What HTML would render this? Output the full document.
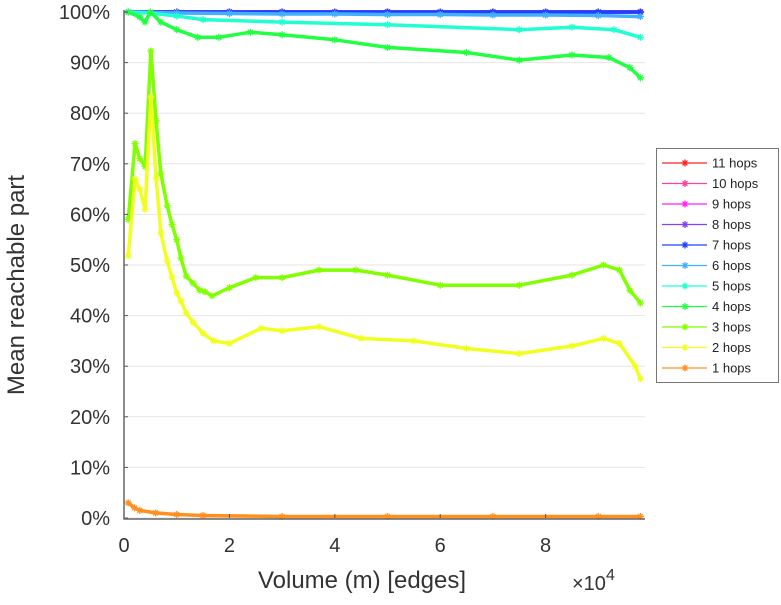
<!DOCTYPE html>
<html><head><meta charset="utf-8"><style>
body{margin:0;background:#fff;}
svg text{font-family:"Liberation Sans",sans-serif;fill:#333;}
</style></head><body>
<svg id="chart" width="781" height="600" viewBox="0 0 781 600" xmlns="http://www.w3.org/2000/svg">
<g id="grid"></g><g id="series"></g><g id="axes"></g><g id="legend"></g>
</svg>
<script>
const seriesNames=["11 hops","10 hops","9 hops","8 hops","7 hops","6 hops","5 hops","4 hops","3 hops","2 hops","1 hops"];
const seriesColors=["#ff2020","#ff40a0","#ff20ff","#8040ff","#2040ff","#40b0ff","#20ffd0","#20ff40","#80ff00","#f0ff20","#ff9020"];
const xTicks=[0,2,4,6,8];
const yTicks=[0,10,20,30,40,50,60,70,80,90,100];
const xFlat=[0.08,1,2,3,4,5,6,7,8,9,9.8];
const flat100=[100,100,100,100,100,100,100,100,100,100,100];
const flat6=[100,99.8,99.7,99.6,99.6,99.5,99.5,99.4,99.4,99.3,99.1];
const x5=[0.08,0.5,1.0,1.5,3,5,7.5,8.5,9.3,9.8];
const v5=[100,99.8,99.2,98.5,98,97.5,96.5,97,96.5,95];
const x4=[0.08,0.3,0.4,0.5,0.7,1.0,1.4,1.8,2.4,3,4,5,6.5,7.5,8.5,9.2,9.6,9.8];
const v4=[100,99,98,100,98,96.5,95,95,96,95.5,94.5,93,92,90.5,91.5,91,89,87];
const x3=[0.08,0.21,0.30,0.40,0.51,0.61,0.70,0.82,0.91,1.0,1.08,1.18,1.31,1.44,1.54,1.67,2.0,2.5,3.0,3.7,4.4,5.0,6.0,7.5,8.5,9.1,9.4,9.6,9.8];
const v3=[59,74,71,69.5,92.3,78.5,68,61.7,58,55,51.4,47.8,46.4,45,44.7,43.9,45.5,47.5,47.5,49,49,48,46,46,48,50,49,45,42.5];
const x2=[0.08,0.21,0.30,0.40,0.51,0.61,0.70,0.82,0.91,1.0,1.08,1.18,1.31,1.5,1.7,2.0,2.6,3.0,3.7,4.5,5.5,6.5,7.5,8.5,9.1,9.4,9.7,9.8];
const v2=[51.8,67,65,61,83.2,67.2,56.3,50.8,47.6,44.5,42.9,40.5,38.7,36.5,35,34.5,37.5,37,37.8,35.5,35,33.5,32.5,34,35.5,34.5,30,27.5];
const x1=[0.08,0.2,0.3,0.6,1.0,1.5,3,5,7,9,9.8];
const v1=[3,2,1.5,1,0.7,0.5,0.3,0.3,0.3,0.3,0.3];
const seriesX=[xFlat,xFlat,xFlat,xFlat,xFlat,xFlat,x5,x4,x3,x2,x1];
const seriesY=[flat100,flat100,flat100,flat100,flat100,flat6,v5,v4,v3,v2,v1];

const NS="http://www.w3.org/2000/svg";
const X0=124,XS=52.7,Y0=518,YS=5.06;
const sx=v=>X0+v*XS, sy=v=>Y0-v*YS;
function mk(tag,attrs,parent){const e=document.createElementNS(NS,tag);for(const k in attrs)e.setAttribute(k,attrs[k]);parent.appendChild(e);return e;}
const grid=document.getElementById('grid'),axes=document.getElementById('axes'),ser=document.getElementById('series'),leg=document.getElementById('legend');
yTicks.forEach(t=>{
 const l=mk('line',{x1:X0,x2:645,y1:sy(t),y2:sy(t),stroke:'#e6e6e6','stroke-width':1},grid);
 
 
 const tx=mk('text',{x:110,y:sy(t)+7,'font-size':20,'text-anchor':'end'},axes);tx.textContent=t+'%';
 
 
 mk('line',{x1:X0,x2:X0+4,y1:sy(t),y2:sy(t),stroke:'#555'},axes);
});
xTicks.forEach(t=>{
 const tx=mk('text',{x:sx(t),y:552,'font-size':20,'text-anchor':'middle'},axes);tx.textContent=t;
 
 
 mk('line',{x1:sx(t),x2:sx(t),y1:Y0,y2:Y0-4,stroke:'#555'},axes);
});
const ax=mk('path',{d:`M${X0},10 V${Y0+1} H645`,stroke:'#666','stroke-width':1.5,fill:'none'},axes);


const xt=mk('text',{x:362,y:588,'font-size':24,'text-anchor':'middle'},axes);xt.textContent='Volume (m) [edges]';


const xe=mk('text',{x:572,y:590,'font-size':20},axes);xe.innerHTML='×10<tspan dy="-10" font-size="16">4</tspan>';


const yt=mk('text',{x:0,y:0,'font-size':24,'text-anchor':'middle',transform:'translate(24,285) rotate(-90)'},axes);yt.textContent='Mean reachable part';


function star(x,y,c,p,r){
 const g=mk('g',{stroke:c,'stroke-width':1.3},p);
 mk('line',{x1:x-r,x2:x+r,y1:y,y2:y},g);mk('line',{x1:x,x2:x,y1:y-r,y2:y+r},g);
 mk('line',{x1:x-r*.7,x2:x+r*.7,y1:y-r*.7,y2:y+r*.7},g);mk('line',{x1:x-r*.7,x2:x+r*.7,y1:y+r*.7,y2:y-r*.7},g);
 return g;
}
for(let i=0;i<seriesNames.length;i++){
 const xs=seriesX[i],ys=seriesY[i],c=seriesColors[i];
 const g=mk('g',{},ser);
 
 
 const d=xs.map((x,j)=>(j?'L':'M')+sx(x).toFixed(1)+','+sy(ys[j]).toFixed(1)).join(' ');
 mk('path',{d:d,stroke:c,'stroke-width':3.5,fill:'none','stroke-linejoin':'round'},g);
 xs.forEach((x,j)=>{const s=star(sx(x),sy(ys[j]),c,g,3.5);
  
  });
}
const lb=mk('rect',{x:656.5,y:148.5,width:122,height:234,fill:'#fff',stroke:'#777'},leg);


seriesNames.forEach((n,i)=>{
 const y=163+i*20.5;
 const g=mk('g',{},leg);
 
 
 mk('line',{x1:662,x2:707,y1:y,y2:y,stroke:seriesColors[i],'stroke-width':1.3},g);
 star(685,y,seriesColors[i],g,3.5);
 const t=mk('text',{x:712,y:y+4.5,'font-size':13},g);t.textContent=n;t.style.fill='#222';
});
</script>
</body></html>
